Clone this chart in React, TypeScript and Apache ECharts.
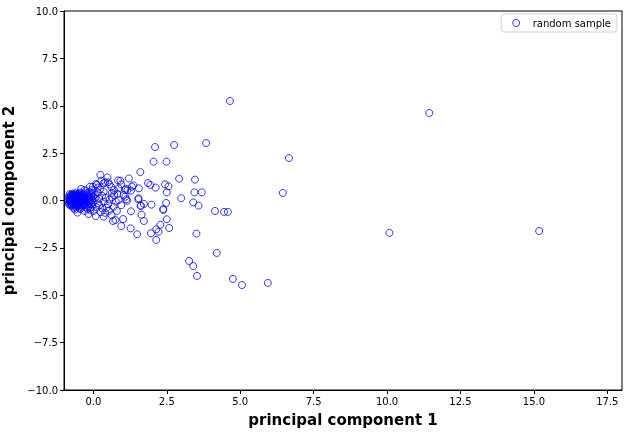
import React, { useEffect, useRef } from "react";
import * as echarts from "echarts";

const xTicks = [0, 2.5, 5, 7.5, 10, 12.5, 15, 17.5];
const yTicks = [-10, -7.5, -5, -2.5, 0, 2.5, 5, 7.5, 10];
const seriesName = "random sample";

const corePoints: [number, number][] = [
  [-0.84, 0.02], [-0.83, 0.21], [-0.82, -0.12], [-0.81, 0.33], [-0.8, -0.04], [-0.79, 0.14], [-0.78, -0.27], [-0.77, 0.07], [-0.76, 0.27], [-0.76, -0.17],
  [-0.75, 0.01], [-0.74, 0.19], [-0.73, -0.08], [-0.72, 0.36], [-0.72, -0.31], [-0.71, 0.1], [-0.7, -0.02], [-0.69, 0.24], [-0.68, -0.19], [-0.67, 0.05],
  [-0.66, 0.31], [-0.66, -0.11], [-0.65, 0.16], [-0.64, -0.25], [-0.63, 0.0], [-0.62, 0.39], [-0.61, -0.06], [-0.6, 0.22], [-0.6, -0.36], [-0.59, 0.09],
  [-0.58, -0.15], [-0.57, 0.28], [-0.56, 0.03], [-0.55, -0.22], [-0.54, 0.17], [-0.54, -0.05], [-0.53, 0.35], [-0.52, -0.29], [-0.51, 0.12], [-0.5, -0.1],
  [-0.49, 0.26], [-0.48, 0.01], [-0.48, -0.39], [-0.47, 0.2], [-0.46, -0.16], [-0.45, 0.42], [-0.44, 0.06], [-0.43, -0.24], [-0.42, 0.3], [-0.41, -0.03],
  [-0.4, 0.14], [-0.39, -0.33], [-0.38, 0.23], [-0.37, -0.12], [-0.36, 0.04], [-0.35, 0.37], [-0.34, -0.2], [-0.33, 0.11], [-0.32, -0.07], [-0.31, 0.27],
  [-0.3, -0.27], [-0.29, 0.18], [-0.28, 0.02], [-0.27, -0.15], [-0.26, 0.33], [-0.25, -0.36], [-0.24, 0.08], [-0.23, 0.21], [-0.22, -0.09], [-0.21, -0.22],
  [-0.2, 0.4], [-0.19, 0.13], [-0.18, -0.02], [-0.17, 0.26], [-0.16, -0.3], [-0.15, 0.05], [-0.14, -0.14], [-0.13, 0.19], [-0.12, 0.44], [-0.11, -0.4],
  [-0.1, 0.1], [-0.09, -0.05], [-0.08, 0.29], [-0.07, -0.19], [-0.06, 0.16], [-0.05, -0.33], [-0.04, 0.03], [-0.03, 0.36], [-0.02, -0.11], [-0.01, 0.22],
  [-0.83, -0.2], [-0.81, 0.1], [-0.79, -0.03], [-0.78, 0.24], [-0.77, -0.14], [-0.75, 0.3], [-0.74, -0.21], [-0.73, 0.05], [-0.71, 0.17], [-0.7, -0.13],
  [-0.69, 0.01], [-0.68, 0.29], [-0.67, -0.05], [-0.65, 0.09], [-0.64, 0.23], [-0.63, -0.17], [-0.62, 0.13], [-0.61, -0.28], [-0.59, 0.32], [-0.58, 0.06],
  [-0.57, -0.09], [-0.56, 0.25], [-0.55, 0.12], [-0.53, -0.18], [-0.52, 0.03], [-0.51, 0.2], [-0.5, -0.24], [-0.49, 0.09], [-0.47, -0.06], [-0.46, 0.33],
  [-0.45, 0.15], [-0.44, -0.12], [-0.42, 0.05], [-0.41, 0.24], [-0.4, -0.19], [-0.38, 0.0], [-0.37, 0.16], [-0.35, -0.04], [-0.34, 0.28], [-0.33, -0.26],
];

const fanPoints: [number, number][] = [
  [0.24, 1.35], [0.48, 1.22], [0.4, 0.96], [0.5, 0.96], [0.84, 1.06], [0.92, 1.04], [1.21, 1.16], [1.6, 1.5], [0.95, 0.85], [1.36, 0.8],
  [1.86, 0.92], [1.94, 0.82], [2.44, 0.85], [2.56, 0.75], [2.12, 0.68], [0.12, 0.82], [-0.12, 0.73], [-0.02, 0.73], [-0.42, 0.61], [0.63, 0.4],
  [0.35, 0.47], [1.03, 0.29], [1.09, 0.2], [1.53, 0.06], [1.98, -0.22], [2.38, -0.5], [1.62, -0.27], [1.28, -0.57], [1.64, -0.75], [1.72, -1.08],
  [1.01, -0.98], [0.95, -1.35], [1.27, -1.47], [1.49, -1.78], [1.96, -1.73], [2.14, -1.52], [2.22, -1.65], [2.28, -1.28], [2.14, -2.08], [2.5, -0.99],
  [2.58, -1.45], [3.51, -1.75], [3.4, -0.1], [3.58, -0.27], [4.14, -0.55], [4.45, -0.6], [4.58, -0.6], [-0.54, -0.64], [-0.67, -0.41], [-0.17, -0.71],
  [0.08, -0.82], [0.35, -0.85], [0.67, -1.08], [0.75, -1.03], [0.01, -0.55], [0.3, -0.41], [0.53, -0.54], [0.69, -0.33], [0.5, -0.2], [0.35, -0.06],
  [0.16, -0.15], [0.76, -0.06], [0.86, 0.02], [1.12, 0.06], [1.15, -0.01], [0.63, 0.17], [0.71, 0.29], [1.72, -0.18], [1.61, -0.29], [0.55, 0.85],
  [0.61, 0.71], [0.35, 0.91], [0.27, 1.05], [0.09, 0.87], [0.23, 0.59], [0.86, 0.64], [1.1, 0.62], [1.16, 0.54], [1.31, 0.73], [1.54, 0.12],
  [2.05, 2.05], [2.49, 2.05], [2.92, 1.15], [3.46, 1.1], [3.44, 0.43], [3.69, 0.43], [2.99, 0.12], [2.5, 0.43], [1.55, 0.64], [1.08, 0.55],
  [1.28, 0.52], [2.1, 2.82], [2.75, 2.93], [3.84, 3.03], [2.48, -0.13], [2.38, -0.45],
  [-0.25, 0.5], [-0.05, 0.55], [0.05, 0.3], [0.15, 0.42], [0.2, 0.1], [0.1, -0.35], [-0.1, -0.5], [-0.3, -0.55], [0.25, -0.62], [0.42, 0.15],
  [0.45, -0.38], [0.2, -0.25], [0.05, 0.12], [-0.2, -0.45], [0.3, 0.25], [0.55, 0.05], [0.4, -0.65], [0.62, -0.78], [0.8, -0.55], [0.95, -0.25],
  [0.82, 0.35], [0.7, 0.55], [0.15, 0.68], [-0.3, 0.55], [-0.45, -0.45], [-0.62, -0.48],
];

const outerPoints: [number, number][] = [
  [4.65, 5.25], [11.44, 4.62], [6.66, 2.24], [6.45, 0.4], [10.08, -1.71], [15.18, -1.61], [4.2, -2.77], [3.26, -3.19], [3.4, -3.46], [3.53, -3.98],
  [4.75, -4.14], [5.06, -4.46], [5.94, -4.35],
];

const fmt = (v: number) => v.toFixed(1).replace("-", "\u2212");
const FONT = "DejaVu Sans";

export default function App() {
  const ref = useRef<HTMLDivElement>(null);
  useEffect(() => {
    if (!ref.current) return;
    const chart = echarts.init(ref.current, undefined, { renderer: "svg" });
    const data = [...corePoints, ...fanPoints, ...outerPoints];
    chart.setOption({
      animation: false,
      textStyle: { fontFamily: FONT },
      grid: {
        left: 64, right: 6, top: 11, bottom: 44,
        outerBoundsMode: "none", containLabel: false,
        show: true, borderColor: "#000", borderWidth: 1, backgroundColor: "transparent",
      },
      legend: {
        right: 11, top: 14, orient: "vertical",
        padding: [4, 6, 4, 11],
        borderColor: "#d0d0d0", borderWidth: 1, borderRadius: 3,
        itemWidth: 7, itemHeight: 7, itemGap: 4,
        textStyle: { fontSize: 10, color: "#000", fontFamily: FONT, padding: [0, 0, 0, 8] },
        data: [{ name: seriesName, icon: "circle", itemStyle: { color: "transparent", borderColor: "#0000ff", borderWidth: 1 } }],
      },
      xAxis: {
        type: "value", min: -1, max: 18,
        name: "principal component 1", nameLocation: "middle", nameGap: 22,
        nameTextStyle: { fontSize: 15, fontWeight: "bold", color: "#000", fontFamily: FONT },
        splitLine: { show: false },
        axisLine: { show: true, onZero: false, lineStyle: { color: "#000" } },
        axisTick: { show: true, length: 4, lineStyle: { color: "#000" }, customValues: xTicks },
        axisLabel: { fontSize: 10, color: "#000", margin: 6, customValues: xTicks, formatter: fmt },
      },
      yAxis: {
        type: "value", min: -10, max: 10,
        name: "principal component 2", nameLocation: "middle", nameGap: 38, nameRotate: 90,
        nameTextStyle: { fontSize: 15, fontWeight: "bold", color: "#000", fontFamily: FONT },
        splitLine: { show: false },
        axisLine: { show: true, onZero: false, lineStyle: { color: "#000" } },
        axisTick: { show: true, length: 4, lineStyle: { color: "#000" }, customValues: yTicks },
        axisLabel: { fontSize: 10, color: "#000", margin: 6, customValues: yTicks, formatter: fmt },
      },
      series: [
        {
          type: "scatter", name: seriesName, data,
          symbol: "circle", symbolSize: 7,
          itemStyle: { color: "transparent", borderColor: "#0000ff", borderWidth: 1 },
          emphasis: { disabled: true },
        },
      ],
    });
    return () => chart.dispose();
  }, []);
  return <div ref={ref} style={{ position: "fixed", left: 0, top: 0, width: 628, height: 434 }} />;
}
